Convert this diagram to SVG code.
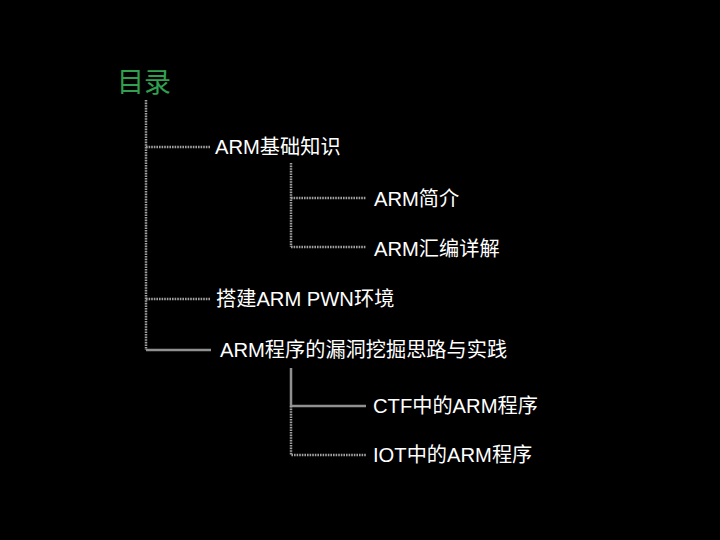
<svg xmlns="http://www.w3.org/2000/svg" width="720" height="540" viewBox="0 0 720 540">
<style>
.t{font-family:"Liberation Sans","Noto Sans CJK SC",sans-serif;font-size:20.2px;fill:#ffffff}
.title{font-family:"Noto Sans CJK SC","Liberation Sans",sans-serif;font-size:27px;fill:#30a050}
.dot{stroke:#a0a0a0;stroke-width:2.5;stroke-dasharray:1.6 1;fill:none}
.sol{stroke:#909090;stroke-width:2.5;fill:none}
</style>
<rect width="720" height="540" fill="#000"/>
<g id="connectors">
<path class="dot" d="M146 100 V350"/>
<path class="dot" d="M146 147 H211"/>
<path class="dot" d="M146 299 H211"/>
<path class="sol" d="M146 350 H211"/>
<path class="dot" d="M291 163 V247"/>
<path class="dot" d="M291 198 H366"/>
<path class="dot" d="M291 247 H366"/>
<path class="sol" d="M291 368 V406 H366"/>
<path class="dot" d="M291 406 V455 H366"/>
</g>
<g id="title"><text class="title" x="117" y="92">目录</text></g>
<g id="n1"><text class="t" x="215" y="154">ARM基础知识</text></g>
<g id="n1a"><text class="t" x="374" y="206">ARM简介</text></g>
<g id="n1b"><text class="t" x="374" y="256">ARM汇编详解</text></g>
<g id="n2"><text class="t" x="216" y="306">搭建ARM PWN环境</text></g>
<g id="n3"><text class="t" x="220" y="357">ARM程序的漏洞挖掘思路与实践</text></g>
<g id="n3a"><text class="t" x="373" y="413">CTF中的ARM程序</text></g>
<g id="n3b"><text class="t" x="373" y="462">IOT中的ARM程序</text></g>
</svg>
